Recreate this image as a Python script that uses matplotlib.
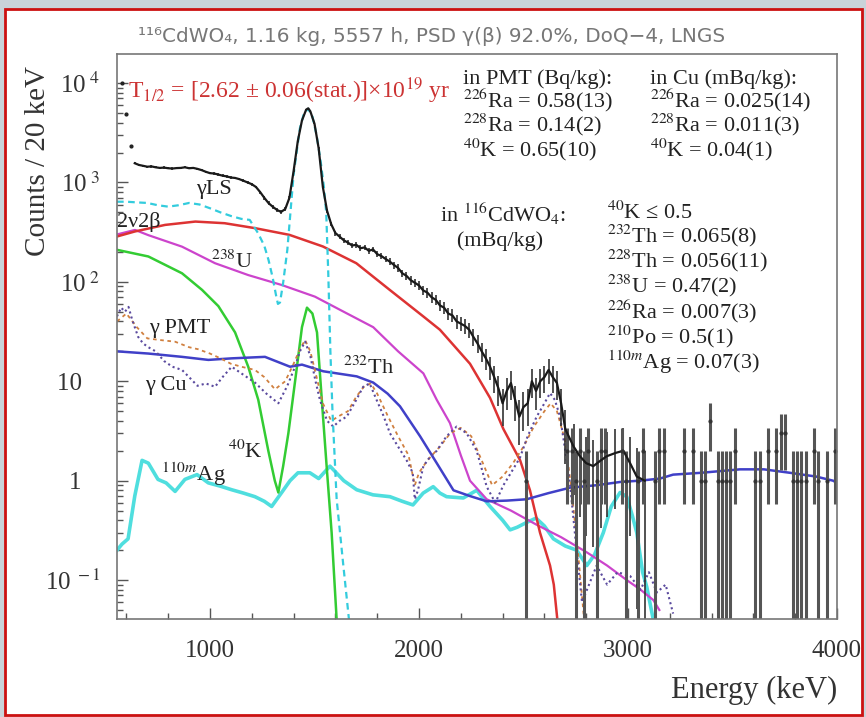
import numpy as np
import matplotlib
matplotlib.use("Agg")
import matplotlib.pyplot as plt
from matplotlib.patches import Rectangle
from matplotlib.ticker import MultipleLocator, LogLocator, NullFormatter

plt.rcParams['font.family'] = ['Liberation Serif', 'DejaVu Serif']
plt.rcParams['mathtext.fontset'] = 'stix'

# experimental spectrum (counts / 20 keV)
low_E = [580, 600, 620]
low_C = [10000, 4900, 2330]

data_E = [640, 660, 680, 700, 720, 740, 760, 780, 800, 820, 840, 860, 880, 900, 920, 940,
          960, 980, 1000, 1020, 1040, 1060, 1080, 1100, 1120, 1140, 1160, 1180, 1200, 1220,
          1240, 1260, 1280, 1300, 1320, 1340, 1360, 1380, 1400, 1420, 1440, 1460, 1470, 1480,
          1500, 1520, 1540, 1560, 1580, 1600, 1620, 1640, 1660, 1680, 1700, 1720, 1740, 1760,
          1780, 1800, 1820, 1840, 1860, 1880, 1900, 1920, 1940, 1960, 1980, 2000, 2020, 2040,
          2060, 2080, 2100, 2120, 2140, 2160, 2180, 2200, 2220, 2240, 2260, 2280, 2300, 2320,
          2340, 2360, 2380, 2400, 2420, 2440, 2460, 2480, 2500, 2520, 2540, 2560, 2580, 2600,
          2620, 2640, 2660, 2680, 2700, 2740, 2770, 2800, 2834, 2870, 2898, 2940, 2978, 3010,
          3042, 3080]
data_C = [1560, 1500, 1470, 1440, 1450, 1420, 1400, 1410, 1390, 1380, 1395, 1400, 1420, 1390,
          1400, 1370, 1330, 1280, 1240, 1230, 1200, 1170, 1150, 1120, 1110, 1080, 1040, 1000,
          960, 900, 800, 700, 620, 570, 530, 505, 540, 700, 1300, 2600, 4200, 5400, 5570, 5200,
          3900, 2200, 900, 520, 380, 310, 285, 262, 248, 232, 236, 218, 222, 205, 212, 190, 182,
          170, 160, 148, 138, 122, 115, 104, 98, 92, 82, 78, 70, 66, 58, 55, 48, 46, 40, 38, 36,
          33, 28, 24, 20, 17, 14, 11, 8.5, 6, 8, 9.6, 6.5, 4.4, 5.5, 6, 10, 8, 10, 11, 13, 11,
          9.6, 6, 3.3, 2.2, 1.76, 1.5, 1.4, 1.6, 1.76, 1.9, 2.0, 1.5, 1.1, 1.0]

# high-energy bins with few counts
hi_E = [2510, 2710, 2730, 2750, 2770, 2790, 2810, 2850, 2870, 2890, 2970, 2990, 3050, 3070,
        3130, 3150, 3170, 3270, 3310, 3350, 3370, 3390, 3430, 3450, 3470, 3490, 3510, 3610,
        3630, 3670, 3710, 3730, 3750, 3790, 3810, 3830, 3850, 3890, 3910, 3950, 3990]
hi_N = [1, 2, 2, 1, 2, 1, 2, 1, 2, 2, 2, 1, 1, 2, 1, 2, 2, 2, 2, 1, 1, 4, 1, 1, 1, 1, 2, 1,
        1, 2, 2, 3, 3, 1, 1, 1, 1, 2, 1, 1, 2]

# model components
ls_E = [555, 600, 650, 700, 750, 800, 850, 900, 950, 1000, 1050, 1100, 1150, 1190, 1230, 1260,
        1280, 1300, 1315, 1325, 1335, 1350, 1370, 1400, 1430, 1450, 1470, 1490, 1510, 1530,
        1545, 1556, 1566, 1576, 1586, 1606, 1638, 1665]
ls_C = [640, 640, 630, 622, 590, 571, 590, 622, 600, 550, 500, 460, 430, 420, 309, 230, 166,
        110, 75, 60, 62, 98, 210, 1200, 3500, 5000, 5500, 4600, 3000, 1600, 900, 500, 120, 20,
        5, 0.65, 0.14, 0.04]

bb_E = [555, 640, 785, 930, 1070, 1215, 1380, 1540, 1700, 1860, 2020, 2100, 2244, 2340, 2404,
        2484, 2531, 2579, 2627, 2645, 2662]
bb_C = [286, 321, 374, 404, 389, 347, 297, 227, 154, 83, 45, 33, 15, 6.8, 3.3, 1.6, 0.8, 0.3,
        0.14, 0.09, 0.04]

u_E = [555, 641, 705, 866, 1024, 1183, 1343, 1502, 1640, 1781, 1900, 2021, 2085, 2148, 2200,
       2244, 2324, 2440, 2563, 2680, 2803, 2900, 2994, 3060, 3121, 3150]
u_C = [300, 333, 295, 226, 154, 117, 93, 71, 50, 35, 20, 12, 6.5, 3.8, 1.8, 1.0, 0.65, 0.5,
       0.36, 0.27, 0.19, 0.14, 0.10, 0.08, 0.063, 0.05]

k_E = [555, 705, 866, 962, 1040, 1120, 1183, 1231, 1279, 1310, 1327, 1350, 1375, 1416, 1440,
       1464, 1490, 1512, 1535, 1558, 1582, 1606]
k_C = [210, 180, 122, 83, 57, 31, 14, 6.5, 2.0, 1.0, 0.76, 1.4, 3.0, 14, 35, 55, 48, 31, 6.5,
       1.4, 0.3, 0.04]

cu_E = [555, 705, 866, 992, 1104, 1263, 1383, 1440, 1542, 1702, 1781, 1850, 1909, 2005, 2085,
        2165, 2244, 2324, 2420, 2515, 2620, 2723, 2850, 2962, 3058, 3153, 3216, 3350, 3536,
        3650, 3775, 3900, 3981, 4000]
cu_C = [20, 19, 17.6, 16.4, 17, 17.6, 14, 14.7, 12.6, 11.2, 9.7, 7.5, 5.6, 2.8, 1.5, 0.8, 0.7,
        0.62, 0.63, 0.65, 0.75, 0.85, 0.9, 0.97, 1.0, 1.05, 1.15, 1.2, 1.3, 1.3, 1.2, 1.1, 1.0,
        0.95]

pa_E = [555, 575, 593, 610, 627, 640, 656, 680, 705, 740, 780, 820, 866, 900, 940, 980, 1024,
        1060, 1104, 1150, 1215, 1270, 1327, 1370, 1407, 1430, 1455, 1480, 1505, 1526, 1560,
        1590, 1620, 1654, 1700, 1733, 1764, 1797, 1830, 1861, 1900, 1941, 1970, 1980, 1995,
        2021, 2050, 2085, 2132, 2180, 2228, 2276, 2324, 2365, 2404, 2440, 2483, 2520, 2563,
        2600, 2627, 2650, 2675, 2700, 2722, 2754, 2780, 2850, 2900, 2950, 3010, 3060, 3100,
        3138, 3180, 3216]
pa_C = [45, 55, 50, 56, 42, 35, 28, 24, 22, 20, 16, 14, 13, 11, 9, 9.5, 8.8, 11, 14, 12, 9.7,
        7.5, 6.0, 9, 14, 20, 25, 18, 10, 6.5, 4, 3.5, 4, 4.4, 6.5, 8.8, 9.5, 6.5, 4.5, 3.0, 2.2,
        1.6, 1.2, 0.65, 0.8, 1.4, 1.7, 2.0, 2.8, 3.5, 3.0, 2.0, 0.87, 0.6, 0.9, 1.2, 1.7, 2.8,
        4.4, 6, 7.6, 6.5, 4.4, 2, 0.95, 0.2, 0.06, 0.14, 0.09, 0.12, 0.11, 0.08, 0.12, 0.075,
        0.09, 0.046]

pb_E = [555, 600, 650, 700, 760, 833, 900, 943, 1000, 1050, 1100, 1150, 1215, 1260, 1311, 1360,
        1400, 1430, 1455, 1480, 1510, 1540, 1580, 1620, 1660, 1700, 1740, 1770, 1800, 1850,
        1900, 1950, 1980, 2000, 2040, 2100, 2150, 2200, 2250, 2300, 2350, 2400, 2450, 2500,
        2550, 2600, 2630, 2660, 2700, 2730, 2760, 2790]
pb_C = [40, 48, 35, 27, 26, 25, 22, 21, 19, 17, 15, 14, 13, 11, 8.3, 10, 15, 21, 26, 20, 11, 6,
        4, 4.5, 5, 7, 9, 9.5, 7.5, 4.5, 2.8, 1.8, 0.9, 1.2, 1.6, 2.2, 3.0, 3.4, 2.8, 1.6, 0.9,
        1.1, 1.5, 2.2, 3.5, 5, 6, 5, 2.5, 0.8, 0.2, 0.04]

ag_E = [555, 579, 608, 640, 675, 705, 751, 790, 833, 880, 938, 992, 1050, 1104, 1160, 1215,
        1260, 1295, 1343, 1383, 1421, 1478, 1520, 1574, 1640, 1702, 1780, 1861, 1920, 1971,
        2020, 2068, 2100, 2132, 2170, 2212, 2276, 2340, 2400, 2436, 2470, 2515, 2560, 2600,
        2643, 2700, 2754, 2803, 2840, 2882, 2920, 2962, 2994, 3020, 3042, 3070, 3090, 3121]
ag_C = [0.2, 0.23, 0.26, 0.7, 1.6, 1.5, 1.03, 0.95, 0.78, 1.03, 1.15, 0.95, 0.88, 0.81, 0.75,
        0.69, 0.62, 0.55, 0.76, 1.0, 1.2, 1.2, 1.05, 1.4, 1.0, 0.81, 0.72, 0.69, 0.62, 0.57,
        0.75, 0.87, 0.75, 0.69, 0.68, 0.67, 0.8, 0.55, 0.4, 0.32, 0.34, 0.38, 0.42, 0.35, 0.26,
        0.22, 0.2, 0.14, 0.18, 0.3, 0.55, 0.76, 0.69, 0.45, 0.3, 0.12, 0.085, 0.04]

y_ticks = [0.1, 1, 10, 100, 1000, 10000]
y_labels = [r'10$^{\ -1}$', '1   ', '10   ', r'10$^{\ 2}$', r'10$^{\ 3}$', r'10$^{\ 4}$']
x_ticks = [1000, 2000, 3000, 4000]

pmt_txt = ['in PMT (Bq/kg):', r'$^{226}$Ra = 0.58(13)', r'$^{228}$Ra = 0.14(2)',
           r'$^{40}$K = 0.65(10)']
cu_txt = ['in Cu (mBq/kg):', r'$^{226}$Ra = 0.025(14)', r'$^{228}$Ra = 0.011(3)',
          r'$^{40}$K = 0.04(1)']
crystal_txt = [r'$^{40}$K ≤ 0.5', r'$^{232}$Th = 0.065(8)', r'$^{228}$Th = 0.056(11)',
               r'$^{238}$U = 0.47(2)', r'$^{226}$Ra = 0.007(3)', r'$^{210}$Po = 0.5(1)',
               r'$^{110m}$Ag = 0.07(3)']

fig = plt.figure(figsize=(8.66, 7.17), dpi=100, facecolor='#c9d3d9')
fig.patches.append(Rectangle((0.006, 0.003), 0.989, 0.985, transform=fig.transFigure,
                             facecolor='white', edgecolor='#cc1111', linewidth=2, zorder=-5))
ax = fig.add_axes([0.1351, 0.1367, 0.8314, 0.788])
ax.set_facecolor('none')

ax.plot(ag_E, ag_C, color='#4fdede', lw=2.6)
ax.plot(k_E, k_C, color='#33cc33', lw=1.8)
ax.plot(u_E, u_C, color='#cc44cc', lw=1.6)
ax.plot(bb_E, bb_C, color='#dd3333', lw=1.8)
ax.plot(cu_E, cu_C, color='#4040c8', lw=1.8)
ax.plot(pb_E, pb_C, color='#d08040', lw=1.3, ls=(0, (2, 2)))
ax.plot(pa_E, pa_C, color='#5a4a9e', lw=1.5, ls=(0, (1, 1.5)))
ax.plot(ls_E, ls_C, color='#33ccdd', lw=1.6, ls=(0, (3, 2)))

ax.errorbar(data_E, data_C, yerr=np.sqrt(data_C), fmt='-', color='#1a1a1a', lw=1.6,
            ecolor='#333333', elinewidth=1.2, capsize=0)
ax.plot(low_E, low_C, 'o', color='#222222', ms=2)
hi_err = np.sqrt(hi_N)
hi_lo = np.minimum(hi_err, np.array(hi_N) * 0.999)
ax.errorbar(hi_E, hi_N, yerr=[hi_lo, hi_err], fmt='o', ms=2, color='#333333',
            ecolor='#555555', elinewidth=2.2, capsize=0)

ax.set_yscale('log')
ax.set_xlim(555, 4000)
ax.set_ylim(0.0406, 1.96e4)
ax.set_xticks(x_ticks)
ax.xaxis.set_minor_locator(MultipleLocator(200))
ax.set_yticks(y_ticks, y_labels)
ax.yaxis.set_minor_locator(LogLocator(subs=np.arange(2, 10)))
ax.yaxis.set_minor_formatter(NullFormatter())
ax.tick_params(which='both', direction='in', color='#555555', width=1)
ax.tick_params(which='major', length=8, labelsize=18, labelcolor='#333333')
ax.tick_params(which='minor', length=4)
ax.tick_params(axis='x', pad=15)
ax.tick_params(axis='y', pad=12)
for sp in ax.spines.values():
    sp.set_color('#777777')
    sp.set_linewidth(1.2)

fig.text(38 / 866, 1 - 161 / 717, 'Counts / 20 keV', rotation=90, ha='center', va='center',
         fontsize=21, color='#333333')
fig.text(837 / 866, 1 - 690 / 717, 'Energy (keV)', ha='right', va='center', fontsize=22,
         color='#333333')
fig.text(432 / 866, 1 - 36 / 717, '¹¹⁶CdWO₄, 1.16 kg, 5557 h, PSD γ(β) 92.0%, DoQ−4, LNGS',
         ha='center', va='center', fontsize=14.4, color='#777777', family='DejaVu Sans')

fs = 16
ax.text(0.015, 0.935, r'T$_{1/2}$ = [2.62 ± 0.06(stat.)]×10$^{19}$ yr', transform=ax.transAxes,
        ha='left', va='center', fontsize=17, color='#cc3333')

ax.text(0.4806, (619 - 116) / 565, '\n'.join(pmt_txt), transform=ax.transAxes, ha='left',
        va='center', fontsize=fs, color='#222222', linespacing=0.9)
ax.text(0.7403, (619 - 116) / 565, '\n'.join(cu_txt), transform=ax.transAxes, ha='left',
        va='center', fontsize=fs, color='#222222', linespacing=0.9)
ax.text(0.4486, (619 - 226) / 565, 'in $^{116}$CdWO$_{4}$:\n   (mBq/kg)',
        transform=ax.transAxes, ha='left', va='center', fontsize=fs, color='#222222',
        linespacing=1.3)
ax.text(0.6806, (619 - 289) / 565, '\n'.join(crystal_txt), transform=ax.transAxes,
        ha='left', va='center', fontsize=fs, color='#222222', linespacing=0.93)

labels = [('γLS', 0.1347, 0.7593, 'center'), ('2ν2β', 0.0, 0.7027, 'left'),
          (r'$^{238}$U', 0.1597, 0.6319, 'center'), ('γ PMT', 0.0875, 0.515, 'center'),
          ('γ Cu', 0.068, 0.414, 'center'), (r'$^{40}$K', 0.1778, 0.2956, 'center'),
          (r'$^{110m}$Ag', 0.1056, 0.2566, 'center'), (r'$^{232}$Th', 0.35, 0.4442, 'center')]
for t, xx, yy, ha in labels:
    ax.text(xx, yy, t, transform=ax.transAxes, ha=ha, va='center', fontsize=fs,
            color='#222222')

fig.savefig('out.png', dpi=100, facecolor=fig.get_facecolor())
